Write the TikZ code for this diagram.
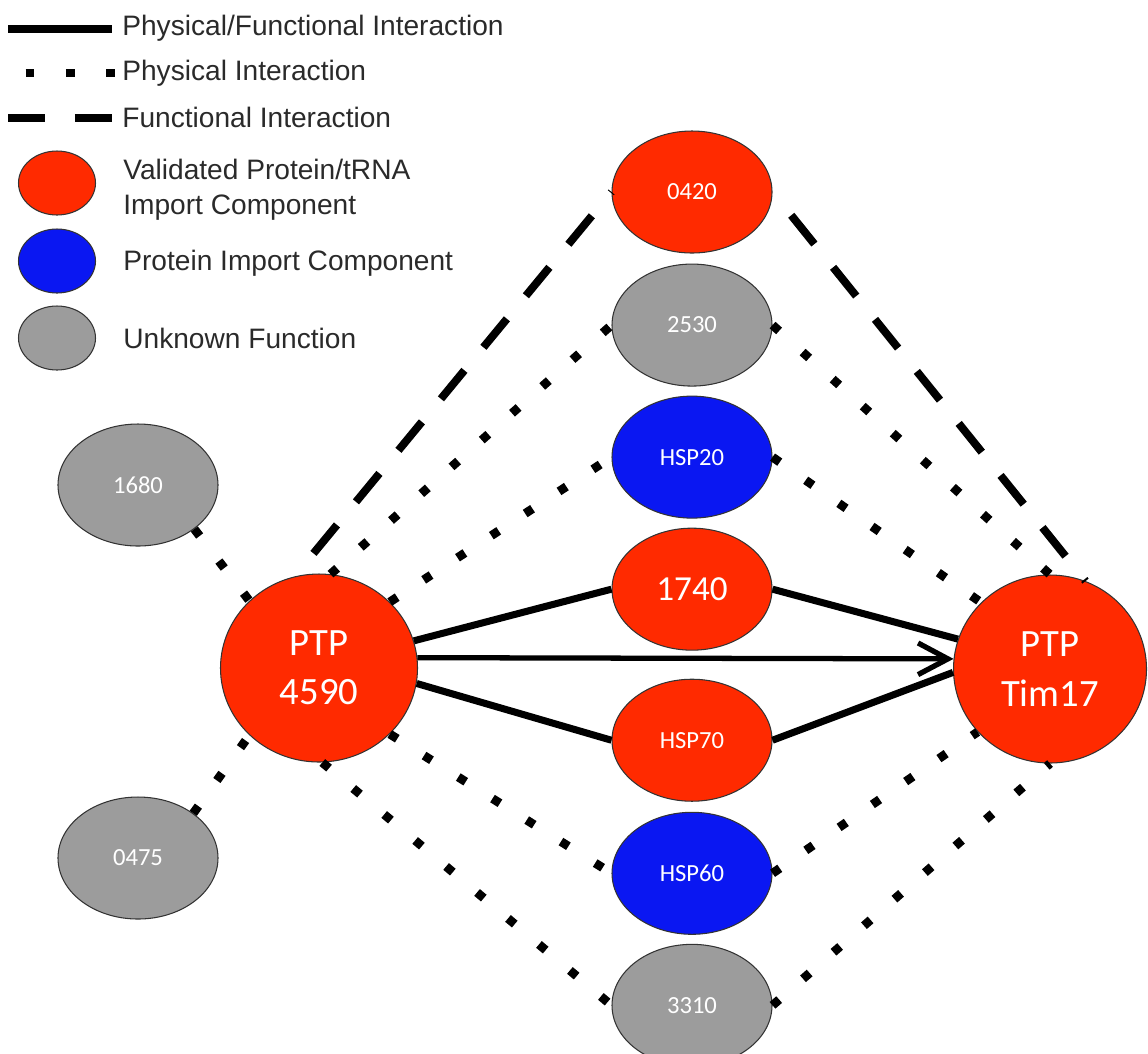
\documentclass[tikz,border=0pt]{standalone}
\usepackage{fontspec}
\setmainfont{Liberation Sans}
\newfontfamily\calfont{Carlito}
\usetikzlibrary{arrows.meta,positioning,shapes.geometric}
\definecolor{PRed}{HTML}{FF2A00}
\definecolor{PBlue}{HTML}{0A17F2}
\definecolor{PGray}{HTML}{9C9C9C}
\definecolor{PText}{HTML}{2A2A2A}

\begin{document}
\begin{tikzpicture}[
  node distance=0.18cm,
  gene/.style={ellipse,draw=black!80,line width=0.6pt,text=white,inner sep=0pt,
    minimum width=3.2cm,minimum height=2.44cm,font=\calfont\fontsize{14}{16}\selectfont},
  vnode/.style={gene,fill=PRed},
  pnode/.style={gene,fill=PBlue},
  unode/.style={gene,fill=PGray},
  hub/.style={gene,fill=PRed,minimum width=3.94cm,minimum height=3.76cm,align=center,
    font=\calfont\fontsize{22}{28}\selectfont},
  key/.style={ellipse,draw=black!80,line width=0.6pt,inner sep=0pt,
    minimum width=1.54cm,minimum height=1.28cm},
  lbl/.style={text=PText,inner sep=0pt,font=\fontsize{16}{20}\selectfont},
  pf/.style={line width=4pt},
  phys/.style={line width=5pt,dash pattern=on 5pt off 18pt},
  func/.style={line width=4.5pt,dash pattern=on 21pt off 17pt}
]
  \useasboundingbox (0,0) rectangle (22.96,-21.06);

  % legend
  \coordinate (ls0) at (0.16,-0.58); \coordinate (ls1) at (2.24,-0.58);
  \coordinate (lp0) at (0.51,-1.46); \coordinate (lp1) at (2.29,-1.46);
  \coordinate (lf0) at (0.16,-2.36); \coordinate (lf1) at (2.24,-2.36);
  \draw[pf] (ls0) -- (ls1);
  \draw[phys] (lp0) -- (lp1);
  \draw[func] (lf0) -- (lf1);
  \node[lbl,anchor=base west] (lt1) at (2.44,-0.70) {Physical/Functional Interaction};
  \node[lbl,anchor=base west] (lt2) at (2.44,-1.60) {Physical Interaction};
  \node[lbl,anchor=base west] (lt3) at (2.44,-2.54) {Functional Interaction};
  \node[key,fill=PRed] (kv) at (1.14,-3.66) {};
  \node[key,fill=PBlue] (kp) at (1.14,-5.22) {};
  \node[key,fill=PGray] (ku) at (1.14,-6.76) {};
  \node[lbl,anchor=west,align=left] (ltv) at (2.46,-3.80) {Validated Protein/tRNA\\Import Component};
  \node[lbl,anchor=base west] (ltp) at (2.46,-5.40) {Protein Import Component};
  \node[lbl,anchor=base west] (ltu) at (2.46,-6.96) {Unknown Function};

  % centre column
  \node[vnode] (n0420) at (13.84,-3.84) {0420};
  \node[unode,below=0.2cm of n0420] (n2530) {2530};
  \node[pnode,below=of n2530] (hsp20) {HSP20};
  \node[vnode,below=of hsp20,font=\calfont\fontsize{20}{22}\selectfont] (n1740) {1740};
  \node[vnode,below=0.56cm of n1740] (hsp70) {HSP70};
  \node[pnode,below=0.2cm of hsp70] (hsp60) {HSP60};
  \node[unode,below=of hsp60] (n3310) {3310};

  % outer nodes
  \node[hub] (p4590) at (6.38,-13.36) {PTP\\4590};
  \node[hub,minimum width=3.86cm] (tim17) at (21.0,-13.38) {PTP\\Tim17};
  \node[unode] (n1680) at (2.76,-9.70) {1680};
  \node[unode] (n0475) at (2.76,-17.16) {0475};

  % connectors
  \draw[pf] (p4590.16) -- (n1740.west);
  \draw[pf] (n1740.east) -- (tim17.162);
  \draw[pf] (p4590.-9) -- (hsp70.west);
  \draw[pf] (hsp70.east) -- (tim17.182);
  \draw[line width=3pt,-{Straight Barb[length=17pt,width=18pt]}] (p4590.6) -- (tim17.174);
  \draw[func,dash phase=21pt] (p4590.105) -- (n0420.west);
  \draw[func,dash phase=21pt] (n0420.east) -- (tim17.68);
  \foreach \x/\y in {n1680.-38/p4590.136,n0475.39/p4590.224,
      p4590.83/n2530.west,p4590.43/hsp20.west,p4590.-43/hsp60.west,p4590.-88/n3310.west,
      n2530.east/tim17.north,hsp20.east/tim17.136,hsp60.east/tim17.221,n3310.east/tim17.south}
    {\draw[phys] (\x) -- (\y);}
\end{tikzpicture}
\end{document}
